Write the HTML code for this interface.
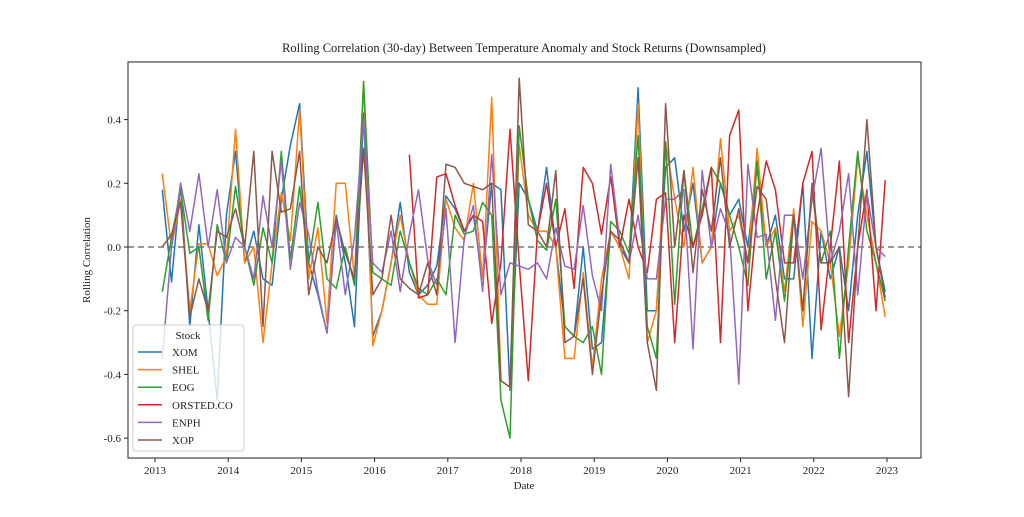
<!DOCTYPE html>
<html><head><meta charset="utf-8"><style>
body{margin:0;background:#fff;}
svg text{font-family:"Liberation Serif","DejaVu Serif",serif;fill:#222;}
</style></head><body>
<svg id="chart" width="1024" height="512" viewBox="0 0 1024 512">
<rect x="0" y="0" width="1024" height="512" fill="#fff"/>
<text x="524" y="52" font-size="12.5" text-anchor="middle">Rolling Correlation (30-day) Between Temperature Anomaly and Stock Returns (Downsampled)</text>
<g id="axes"></g>
<g id="lines"></g>
<rect x="128" y="62" width="793" height="396" fill="none" stroke="#222" stroke-width="1"/>
<g id="legend"></g>
<text x="524" y="489" font-size="11" text-anchor="middle">Date</text>
<text x="90" y="260" font-size="11" text-anchor="middle" transform="rotate(-90 90 260)">Rolling Correlation</text>
</svg>
<script>
const seriesNames=["XOM","SHEL","EOG","ORSTED.CO","ENPH","XOP"];
const colors=["#1f77b4","#ff7f0e","#2ca02c","#d62728","#9467bd","#8c564b"];
const xTicks=[2013,2014,2015,2016,2017,2018,2019,2020,2021,2022,2023];
const yTicks=[-0.6,-0.4,-0.2,0.0,0.2,0.4];
const startYear=2013.1, stepYear=0.125;
const xom=[0.18,-0.11,0.2,-0.25,0.07,-0.2,-0.48,0.1, 0.3,-0.05,0.05,-0.1,-0.12,0.15,0.32,0.45, -0.05,-0.15,-0.27,0.1,-0.05,-0.25,0.42,-0.28, -0.2,-0.05,0.14,-0.08,-0.15,-0.12,-0.06,0.16, 0.12,0.05,0.1,-0.1,0.2,0.18,-0.45,0.2, 0.15,0.05,0.25,0.0,-0.25,-0.28,0.0,-0.32, -0.3,0.05,0.0,-0.05,0.5,-0.2,-0.2,0.25, 0.28,0.05,0.2,-0.05,0.0,0.2,0.1,0.15, 0.0,0.25,0.0,0.1,-0.1,-0.1,0.2,-0.35, 0.05,-0.1,0.0,-0.2,0.1,0.3,0.0,-0.14];
const shel=[0.23,0.0,0.15,-0.2,0.01,0.01,-0.09,-0.03, 0.37,-0.05,0.0,-0.3,-0.05,0.17,0.02,0.43, -0.1,0.06,-0.24,0.2,0.2,-0.1,0.52,-0.31, -0.2,-0.05,0.1,-0.05,-0.15,-0.18,-0.18,0.15, 0.06,0.02,0.2,-0.1,0.47,-0.42,-0.44,0.32, 0.1,0.05,0.05,0.0,-0.35,-0.35,-0.08,-0.38, -0.1,0.05,0.0,-0.1,0.45,-0.3,-0.2,0.33, 0.15,0.0,0.25,-0.05,0.0,0.34,0.05,0.1, -0.05,0.31,0.0,0.06,-0.14,0.12,-0.25,0.08, 0.05,-0.05,-0.28,-0.05,0.28,0.1,-0.05,-0.22];
const eog=[-0.14,0.03,0.18,-0.02,0.0,-0.23,0.07,-0.05, 0.19,0.0,-0.12,0.06,-0.05,0.3,-0.04,0.19, -0.05,0.14,-0.1,-0.13,0.0,-0.12,0.52,-0.08, -0.1,-0.12,0.05,-0.05,-0.13,-0.15,-0.1,-0.15, 0.1,0.04,0.05,0.14,0.1,-0.48,-0.6,0.38, 0.15,0.02,-0.01,0.15,-0.25,-0.28,-0.3,-0.25, -0.4,0.08,0.05,-0.02,0.35,-0.25,-0.35,0.33, -0.18,0.24,0.0,0.12,0.25,0.2,0.1,0.0, -0.12,0.27,-0.1,0.05,-0.17,0.1,-0.2,0.18, -0.05,0.05,-0.35,0.0,0.3,0.05,-0.05,-0.17];
const orsted=[null,null,null,null,null,null,null,null, null,null,null,null,null,null,null,null, null,null,null,null,null,null,null,null, null,null,null,0.29,-0.16,-0.15,0.22,0.23, 0.13,0.05,0.1,0.08,-0.24,-0.05,0.37,-0.05, -0.42,0.05,0.2,0.0,0.12,-0.13,0.25,0.2, 0.04,0.22,0.0,0.15,0.0,-0.08,0.15,0.17, -0.3,0.1,0.0,0.1,0.25,-0.3,0.35,0.43, -0.2,0.1,0.27,0.18,-0.05,-0.05,0.2,0.3, -0.26,0.0,0.27,-0.3,0.0,0.18,-0.2,0.21];
const enph=[-0.35,0.0,0.2,0.05,0.23,0.0,0.18,-0.05, 0.03,0.0,-0.1,0.16,0.0,0.27,-0.07,0.14, 0.04,-0.14,-0.27,0.08,-0.15,0.03,0.4,-0.05, -0.08,0.05,-0.14,0.04,0.18,-0.04,-0.12,0.12, -0.3,0.03,0.13,-0.14,0.29,-0.15,-0.05,-0.06, -0.07,-0.05,-0.1,0.06,-0.06,-0.07,0.13,-0.09, -0.2,0.26,0.02,-0.05,0.1,-0.1,-0.1,0.15, 0.15,0.18,-0.32,0.24,0.0,0.12,0.04,-0.43, 0.26,0.03,0.04,-0.23,0.1,0.1,-0.1,0.15, 0.31,-0.05,0.05,0.23,-0.15,0.17,0.0,-0.03];
const xop=[0.0,0.04,0.14,-0.22,-0.1,-0.2,0.05,0.03, 0.12,0.0,0.3,-0.25,0.3,0.11,0.12,0.3, -0.15,0.0,-0.05,0.09,-0.02,-0.1,0.31,-0.15, -0.1,0.1,-0.1,-0.13,-0.15,-0.05,-0.15,0.26, 0.25,0.2,0.19,0.18,0.2,-0.42,-0.44,0.53, 0.07,0.05,0.0,0.24,-0.3,-0.28,-0.1,-0.4, -0.15,0.05,0.02,-0.05,0.28,-0.3,-0.45,0.45, 0.0,0.24,-0.08,0.18,0.05,0.28,0.0,0.12, -0.05,0.19,0.15,-0.1,-0.3,0.1,-0.2,0.2, -0.05,-0.05,0.0,-0.47,0.0,0.4,0.0,-0.16];
const allSeries=[xom,shel,eog,orsted,enph,xop];

const X0=128,X1=921,Y0=62,Y1=458;
function xScale(yr){return 155+(yr-2013)*73.2;}
function yScale(v){return 247-v*318.5;}
const NS="http://www.w3.org/2000/svg";
function mk(tag,attrs,parent){const e=document.createElementNS(NS,tag);for(const k in attrs)e.setAttribute(k,attrs[k]);parent.appendChild(e);return e;}
const axes=document.getElementById("axes");
xTicks.forEach(t=>{
  const x=xScale(t);
  const tk=mk("line",{x1:x,x2:x,y1:Y1,y2:Y1+4,stroke:"#222"},axes);
  
  
  const lb=mk("text",{x:x,y:Y1+16,"font-size":"11","text-anchor":"middle"},axes);
  lb.textContent=t;
  
  
});
yTicks.forEach(t=>{
  const y=yScale(t);
  const tk=mk("line",{x1:X0-4,x2:X0,y1:y,y2:y,stroke:"#222"},axes);
  
  
  const lb=mk("text",{x:X0-7,y:y+4,"font-size":"11","text-anchor":"end"},axes);
  lb.textContent=t.toFixed(1);
  
  
});
const zl=mk("line",{x1:X0,x2:X1,y1:yScale(0),y2:yScale(0),stroke:"#777","stroke-width":1.5,"stroke-dasharray":"6,4"},axes);



const lines=document.getElementById("lines");
allSeries.forEach((s,si)=>{
  let d="",pen=false;
  s.forEach((v,i)=>{
    if(v===null){pen=false;return;}
    const x=xScale(startYear+i*stepYear),y=yScale(v);
    d+=(pen?"L":"M")+x.toFixed(1)+","+y.toFixed(1);pen=true;
  });
  const p=mk("path",{d:d,fill:"none",stroke:colors[si],"stroke-width":1.5,"stroke-linejoin":"round"},lines);
  
  
});

const lg=document.getElementById("legend");
const box=mk("rect",{x:133,y:325,width:111,height:126,rx:3,fill:"#fff","fill-opacity":0.8,stroke:"#ccc"},lg);


const lt=mk("text",{x:188,y:339,"font-size":"11","text-anchor":"middle"},lg);
lt.textContent="Stock";


seriesNames.forEach((n,i)=>{
  const y=352+i*17.6;
  const ln=mk("line",{x1:138,x2:162,y1:y,y2:y,stroke:colors[i],"stroke-width":1.5},lg);
  
  
  const tx=mk("text",{x:172,y:y+4,"font-size":"11"},lg);
  tx.textContent=n;
  
  
});
</script>
</body></html>
